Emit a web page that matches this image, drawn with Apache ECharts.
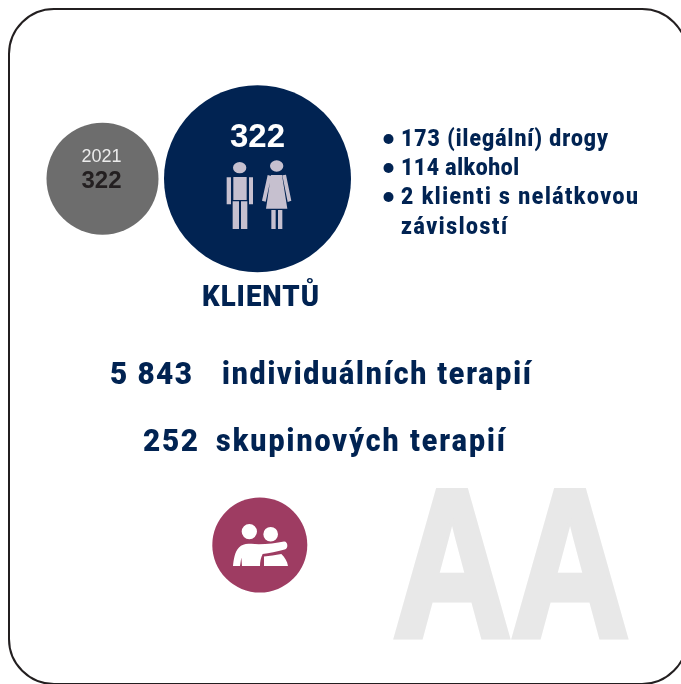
<!DOCTYPE html>
<html><head><meta charset="utf-8">
<style>html,body{margin:0;padding:0;background:#fff}#c{width:681px;height:684px}</style>
<script src="https://cdn.jsdelivr.net/npm/echarts@6/dist/echarts.min.js"></script></head>
<body><div id="c"></div>
<script>
const clientsNow = 322;
const clientsPrev = 322;
const prevYear = '2021';
const clientsLabel = 'KLIENTŮ';
const breakdown = ['173 (ilegální) drogy', '114 alkohol', '2 klienti s nelátkovou', 'závislostí'];
const individualCount = '5 843';
const individualLabel = 'individuálních terapií';
const groupCount = '252';
const groupLabel = 'skupinových terapií';
const watermark = 'AA';

const NAVY = '#012352', ICON = '#c6c0cf', PLUM = '#9e3c62';
const mctx = document.createElement('canvas').getContext('2d');
// Tracking (letter spacing) per string: the reference uses a narrow, widely tracked face.
const tracking = new Map();
const proto = CanvasRenderingContext2D.prototype;
const origFill = proto.fillText;
proto.fillText = function (t, x, y, m) {
  this.letterSpacing = (tracking.get(t) || 0) + 'px';
  return m === undefined ? origFill.call(this, t, x, y) : origFill.call(this, t, x, y, m);
};
function fit(str, left, right, cy, size, color, squeeze) {
  const s = squeeze || 0.92;
  const font = '900 ' + size + 'px Roboto';
  mctx.font = font;
  const w = mctx.measureText(str).width;
  const n = Math.max(1, str.length - 1);
  tracking.set(str, ((right - left) / s - w) / n);
  return { type: 'text', x: left, y: cy, scaleX: s, silent: true,
    style: { text: str, x: 0, y: 0, fill: color, font: font, textAlign: 'left', textVerticalAlign: 'middle' } };
}
function center(str, cx, cy, size, color, weight) {
  return { type: 'text', silent: true, style: { text: String(str), x: cx, y: cy, fill: color,
    font: weight + ' ' + size + 'px "Liberation Sans"', textAlign: 'center', textVerticalAlign: 'middle' } };
}
function ell(x, y, rx, ry) {
  return `M${x-rx} ${y}A${rx} ${ry} 0 1 1 ${x+rx} ${y}A${rx} ${ry} 0 1 1 ${x-rx} ${y}Z`;
}
const man = ell(629,263,20,17) +
  'M610 291H650V360H610ZM590 292H603V373H590ZM657 292H669V373H657ZM608 364H627V447H608ZM633 364H652V447H633Z';
const woman = ell(740,258,20,17) +
  'M723 285H756L772 386H708ZM713 285L724 288L707 365L696 362ZM757 286L768 284L784 362L773 366ZM724 390H737V447H724ZM744 390H757V447H744Z';
const pair = ell(64,40,23,23) + ell(128,48,22,22) +
  'M15 144C17 125 20 100 33 88C42 78 55 75 70 77C100 80 140 76 168 70C180 69 182 92 170 94C145 100 125 105 104 108C98 120 96 132 96 144H42L40 118L36 144Z' +
  'M108 115C125 114 142 112 160 108C170 118 178 130 180 144H108Z';

const icons = [
  { d: man, fill: ICON, x: 30 + 590/3, y: 80 + 246/3, w: 79/3, h: 201/3 },
  { d: woman, fill: ICON, x: 30 + 696/3, y: 80 + 241/3, w: 88/3, h: 206/3 },
  { d: pair, fill: '#ffffff', x: 233, y: 524, w: 55, h: 42 }
];

const bullets = breakdown.slice(0, 3).map((_, i) => ({
  type: 'circle', silent: true, shape: { cx: 388.5, cy: [139, 168, 197][i], r: 5 }, style: { fill: NAVY } }));

const graphic = [
  { type: 'rect', silent: true, shape: { x: 9, y: 9, width: 678, height: 675, r: 45 },
    style: { fill: 'none', stroke: '#231f20', lineWidth: 2 } },
  center(prevYear, 101.5, 157, 18, '#ececec', 400),
  center(clientsPrev, 101.5, 181, 24, '#231f20', 700),
  center(clientsNow, 257.5, 138, 33, '#ffffff', 700),
  fit(clientsLabel, 202, 319, 298, 30, NAVY),
  ...bullets,
  fit(breakdown[0], 401, 608, 140, 23, NAVY),
  fit(breakdown[1], 401, 519, 169, 23, NAVY),
  fit(breakdown[2], 401, 638, 198, 23, NAVY),
  fit(breakdown[3], 401, 507, 228, 23, NAVY),
  fit(individualCount, 110, 192, 376, 31, NAVY, 0.96),
  fit(individualLabel, 222, 531, 376, 31, NAVY),
  fit(groupCount, 143, 198, 443, 31, NAVY, 0.96),
  fit(groupLabel, 216, 505, 443, 31, NAVY)
];
// watermark: Liberation Sans Bold, thickened with a same-colour outline
mctx.font = '700 210px "Liberation Sans"';
const wmW = mctx.measureText(watermark).width;
const back = { type: 'text', x: 393, y: 578, scaleX: 236 / wmW, silent: true, z: 1,
  style: { text: watermark, x: 0, y: 0, fill: '#e8e8e8', stroke: '#e8e8e8', lineWidth: 7,
    font: '700 210px "Liberation Sans"', textAlign: 'left', textVerticalAlign: 'middle' } };

const chart = echarts.init(document.getElementById('c'));
chart.setOption({
  animation: false,
  grid: { left: 0, right: 0, top: 0, bottom: 0 },
  xAxis: { type: 'value', min: 0, max: 681, show: false },
  yAxis: { type: 'value', min: 0, max: 684, inverse: true, show: false },
  series: [{
    type: 'scatter', silent: true, z: 2,
    data: [
      { value: [102.5, 178.7], symbolSize: 112, itemStyle: { color: '#6d6d6d', opacity: 1 } },
      { value: [257.5, 178.7], symbolSize: 187, itemStyle: { color: NAVY, opacity: 1 } },
      { value: [259.8, 545], symbolSize: 95, itemStyle: { color: PLUM, opacity: 1 } }
    ]
  }, {
    type: 'custom', silent: true, z: 3, coordinateSystem: 'none',
    data: icons.map((_, i) => i),
    renderItem: (params) => {
      const ic = icons[params.dataIndex];
      return { type: 'path',
        shape: { pathData: ic.d, x: ic.x, y: ic.y, width: ic.w, height: ic.h, layout: 'cover' },
        style: { fill: ic.fill } };
    }
  }],
  graphic: { elements: [back].concat(graphic.map(e => Object.assign({ z: 10 }, e))) }
});
</script></body></html>
